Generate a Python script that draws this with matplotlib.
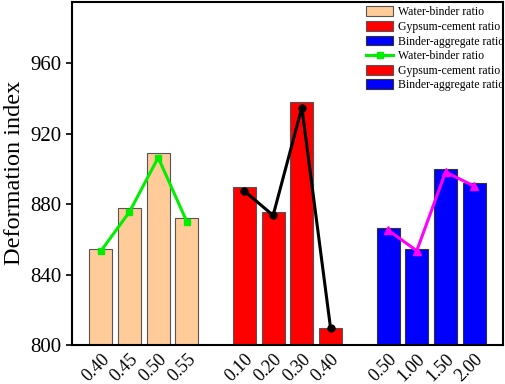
import matplotlib.pyplot as plt
import numpy as np

plt.rcParams['font.family'] = 'Liberation Serif'

# values
wb_labels = ['0.40', '0.45', '0.50', '0.55']
gc_labels = ['0.10', '0.20', '0.30', '0.40']
ba_labels = ['0.50', '1.00', '1.50', '2.00']

wb_bar = [854.6, 877.5, 909.0, 871.9]
gc_bar = [889.5, 875.5, 938.0, 809.8]
ba_bar = [866.4, 854.3, 900.2, 891.9]

wb_line = [853.2, 875.6, 906.4, 869.9]
gc_line = [887.4, 873.6, 934.8, 809.4]
ba_line = [865.2, 853.5, 898.2, 890.2]

x_wb = np.arange(1, 5)
x_gc = np.arange(6, 10)
x_ba = np.arange(11, 15)

fig = plt.figure(figsize=(5.05, 3.84), dpi=100)
ax = fig.add_axes([0.1426, 0.1016, 0.8534, 0.8944])

b1 = ax.bar(x_wb, wb_bar, width=0.8, color='#FFCC99', edgecolor='#555555', linewidth=0.8)
b2 = ax.bar(x_gc, gc_bar, width=0.8, color='#FF0000', edgecolor='#555555', linewidth=0.8)
b3 = ax.bar(x_ba, ba_bar, width=0.8, color='#0000FF', edgecolor='#333333', linewidth=0.8)

l1, = ax.plot(x_wb, wb_line, color='#00EE00', marker='s', markersize=5, linewidth=2.2)
l2, = ax.plot(x_gc, gc_line, color='black', marker='o', markersize=5, linewidth=2.2)
l3, = ax.plot(x_ba, ba_line, color='#FF00FF', marker='^', markersize=6, linewidth=2.2)

ax.set_xlim(0, 15)
ax.set_ylim(800, 995)
ax.set_yticks([800, 840, 880, 920, 960])
ax.set_xticks(np.concatenate([x_wb, x_gc, x_ba]))
ax.set_xticklabels(wb_labels + gc_labels + ba_labels, rotation=45, ha='right',
                   rotation_mode='anchor', fontsize=13)
ax.tick_params(axis='y', labelsize=15, direction='out', length=4, width=1.2)
ax.tick_params(axis='x', length=0, pad=4)
for s in ax.spines.values():
    s.set_linewidth(1.5)
ax.set_ylabel('Deformation index', fontsize=17.5, labelpad=4)

ax.legend([b1, b2, b3, l1, b2, b3],
          ['Water-binder ratio', 'Gypsum-cement ratio', 'Binder-aggregate ratio',
           'Water-binder ratio', 'Gypsum-cement ratio', 'Binder-aggregate ratio'],
          loc='upper right', bbox_to_anchor=(1.022, 1.01), frameon=False, fontsize=8.5,
          handlelength=2.3, handleheight=0.9, handletextpad=0.4, labelspacing=0.22,
          borderaxespad=0.3)

fig.savefig('out.png', dpi=100)
